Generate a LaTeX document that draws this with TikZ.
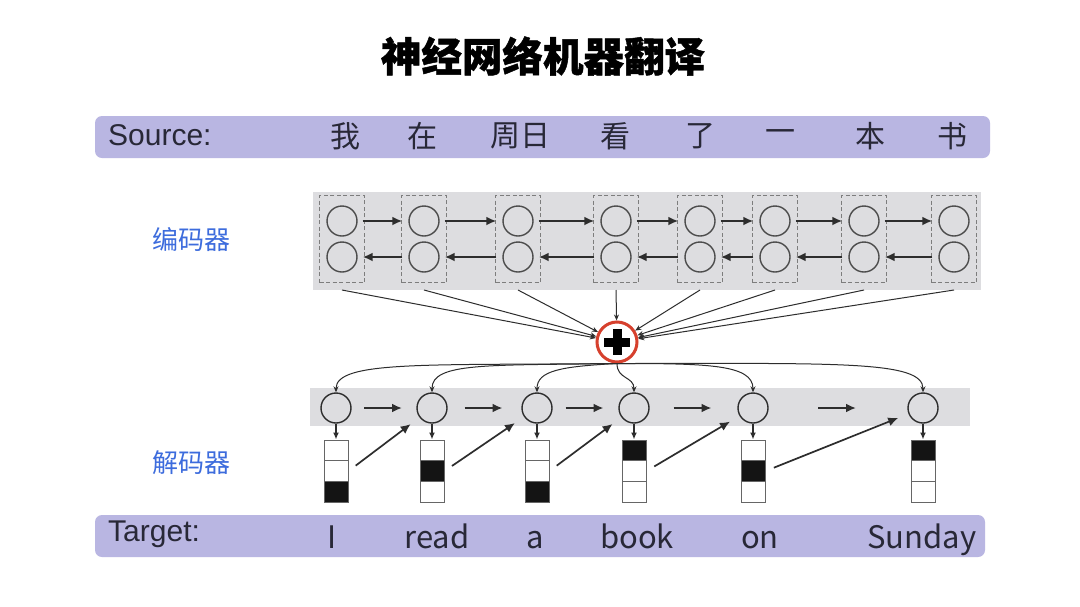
\documentclass[tikz,border=0pt]{standalone}
\usepackage{fontspec}
\setmainfont{Liberation Sans}
\newfontfamily\cjk{Noto Sans CJK SC}
\newfontfamily\cjkheavy{Noto Sans CJK SC}[BoldFeatures={FakeBold=1.2}]
\usetikzlibrary{arrows.meta,calc}
\definecolor{barcol}{RGB}{185,182,226}
\definecolor{bandgray}{RGB}{221,221,224}
\definecolor{labblue}{RGB}{61,108,221}
\definecolor{plusred}{RGB}{214,64,45}
\definecolor{dark}{RGB}{45,45,45}
\definecolor{txt}{RGB}{40,40,55}
\definecolor{dashgray}{RGB}{125,125,125}
\tikzset{
  bar/.style={fill=barcol, rounded corners=7pt, draw=none},
  band/.style={fill=bandgray, draw=none},
  ecirc/.style={circle, draw=black!70, line width=1.4pt, minimum size=30pt, inner sep=0pt},
  dcirc/.style={circle, draw=dark, line width=1.4pt, minimum size=30pt, inner sep=0pt},
  ebox/.style={rectangle, draw=dashgray, dash pattern=on 4pt off 2.5pt, line width=1pt, minimum width=45pt, minimum height=87pt, inner sep=0pt},
  boldarrow/.style={draw=dark, line width=2pt, -{Latex[length=10pt,width=9pt]}},
  diagarrow/.style={draw=dark, line width=1.7pt, -{Latex[length=10pt,width=9pt]}},
  thinarrow/.style={draw=dark, line width=1pt, -{Stealth[length=6pt,width=5pt]}},
  medarrow/.style={draw=dark, line width=1.5pt, -{Latex[length=7pt,width=6pt]}},
  cell/.style={rectangle, draw=black!60, line width=1pt, minimum width=24pt, minimum height=20.7pt, inner sep=0pt, fill=white},
  fcell/.style={cell, fill=black!92},
  srcword/.style={font=\cjk\fontsize{30}{34}\selectfont, text=txt, inner sep=0pt},
  tgtword/.style={font=\cjk\fontsize{31}{36}\selectfont, text=txt, inner sep=0pt, anchor=base},
  lab/.style={font=\cjk\fontsize{26}{30}\selectfont, text=labblue, inner sep=0pt},
}
\begin{document}
\begin{tikzpicture}[x=1pt,y=-1pt]
\useasboundingbox (0,0) rectangle (1080,606);
\fill[white] (0,0) rectangle (1080,606);
% title
\node[font=\cjkheavy\bfseries\fontsize{40.5}{46}\selectfont, inner sep=0pt] (title) at (543,56) {神经网络机器翻译};
% source bar
\node[bar, minimum width=895pt, minimum height=42pt] (src) at (542.5,137) {};
\node[font=\fontsize{30}{34}\selectfont, text=txt, anchor=west, inner sep=0pt] (srclab) at (108,135) {Source:};
\node[srcword] (s1) at (345,136) {我};
\node[srcword] (s2) at (422,136) {在};
\node[srcword] (s3) at (520,136) {周日};
\node[srcword] (s4) at (615,136) {看};
\node[srcword] (s5) at (700,136) {了};
\node[srcword] (s6) at (780,136) {一};
\node[srcword] (s7) at (870,136) {本};
\node[srcword] (s8) at (952,136) {书};
% target bar
\node[bar, minimum width=890pt, minimum height=42pt] (tgt) at (540,536) {};
\node[font=\fontsize{30}{34}\selectfont, text=txt, anchor=west, inner sep=0pt] (tgtlab) at (108,534) {Target:};
\node[tgtword] (t1) at (332,548) {I};
\node[tgtword] (t2) at (437,548) {read};
\node[tgtword] (t3) at (535,548) {a};
\node[tgtword] (t4) at (637,548) {book};
\node[tgtword] (t5) at (760,548) {on};
\node[tgtword] (t6) at (922,548) {Sunday};
% labels
\node[lab] (enc) at (191,240) {编码器};
\node[lab] (dec) at (191,463) {解码器};
% encoder band
\fill[band] (313,192) rectangle (981,290);
\foreach \i/\x in {1/342,2/424,3/518,4/616,5/700,6/775,7/864,8/954}{
  \node[ebox] (eb\i) at (\x,239) {};
  \node[ecirc] (et\i) at (\x,221) {};
  \node[ecirc] (ed\i) at (\x,257) {};
  \coordinate (es\i) at ($(eb\i.south)+(0,7)$);
}
\foreach \i/\j in {1/2,2/3,3/4,4/5,5/6,6/7,7/8}{
  \draw[boldarrow, shorten <=5pt, shorten >=6pt] (et\i) -- (et\j);
  \draw[boldarrow, shorten <=6pt, shorten >=5pt] (ed\j) -- (ed\i);
}
% plus node
\node[circle, draw=plusred, line width=3pt, fill=white, minimum size=40pt, inner sep=0pt] (plus) at (617,342) {};
\fill[black] ($(plus)+(-4.5,-13)$) rectangle ($(plus)+(4.5,13)$);
\fill[black] ($(plus)+(-13,-4.5)$) rectangle ($(plus)+(13,4.5)$);
\foreach \i in {1,...,8}{
  \draw[thinarrow] (es\i) -- (plus);
}
% decoder band
\fill[band] (310,388) rectangle (970,426);
\foreach \i/\x in {1/336,2/432,3/537,4/634,5/753,6/923}{
  \node[dcirc] (d\i) at (\x,408) {};
}
\foreach \i/\j in {1/2,2/3,3/4,4/5,5/6}{
  \draw[boldarrow] ($(d\i)!0.5!(d\j)+(-20,0)$) -- ($(d\i)!0.5!(d\j)+(18,0)$);
}
% curves from plus
\draw[thinarrow] (plus.south) .. controls +(-190,2) and +(0,-32) .. (d1.north);
\draw[thinarrow] (plus.south) .. controls +(-130,2) and +(0,-30) .. (d2.north);
\draw[thinarrow] (plus.south) .. controls +(-55,3) and +(0,-22) .. (d3.north);
\draw[thinarrow] (plus.south) .. controls +(0,16) and +(0,-16) .. (d4.north);
\draw[thinarrow] (plus.south) .. controls +(90,0) and +(0,-28) .. (d5.north);
\draw[thinarrow] (plus.south) .. controls +(220,0) and +(0,-32) .. (d6.north);
% output boxes
\foreach \i/\x/\p in {1/336/3,2/432/2,3/537/3,4/634/1,5/753/2,6/923/1}{
  \foreach \c/\y in {1/450.35,2/471.05,3/491.75}{
    \ifnum\c=\p
      \node[fcell] (o\i c\c) at (\x,\y) {};
    \else
      \node[cell] (o\i c\c) at (\x,\y) {};
    \fi
  }
  \draw[medarrow] (d\i.south) -- (o\i c1.north);
}
\foreach \i/\j in {1/2,2/3,3/4,4/5,5/6}{
  \draw[diagarrow, shorten <=9pt, shorten >=11pt] (o\i c2.east) -- (d\j);
}
\end{tikzpicture}
\end{document}
